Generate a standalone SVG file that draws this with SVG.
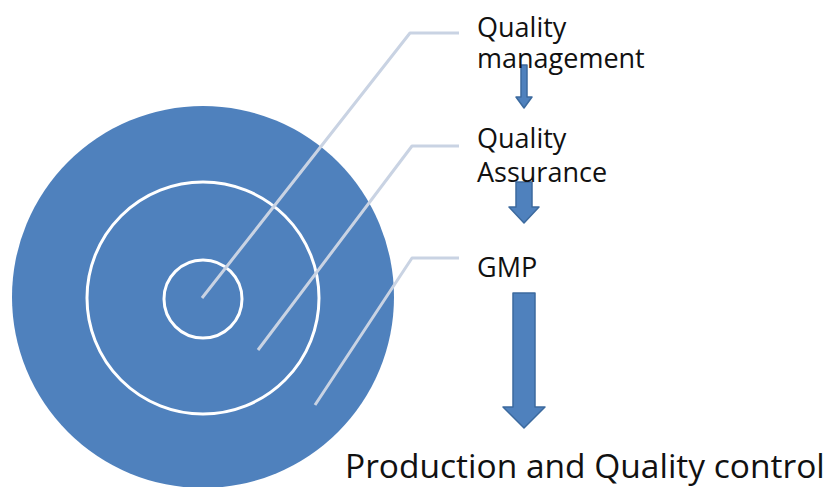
<svg xmlns="http://www.w3.org/2000/svg" width="827" height="487" viewBox="0 0 827 487">
<style>
.ring{fill:none;stroke:#ffffff;stroke-width:3}
.lead{fill:none;stroke:#c9d3e3;stroke-width:3;stroke-linejoin:round}
.arr{fill:#4f81bd;stroke:#3c6a9e;stroke-width:1.5;stroke-linejoin:round}
.lbl{font-family:"Open Sans","Noto Sans",sans-serif;font-size:27px;fill:#111}
</style>
<rect width="827" height="487" fill="#ffffff"/>
<g id="target">
<circle cx="203" cy="297" r="191" fill="#4f81bd"/>
<circle class="ring" cx="203" cy="298" r="116"/>
<circle class="ring" cx="203" cy="299" r="39"/>
</g>
<g id="connectors">
<polyline class="lead" points="202,298 410,33 459,33"/>
<polyline class="lead" points="258,350 412,146 459,146"/>
<polyline class="lead" points="315,405 412,258 459,258"/>
<path class="arr" d="M521,65 H527 V97 H532 L524,108 L516,97 H521 Z"/>
<path class="arr" d="M516,182 H532 V207 H539 L524,223 L509,207 H516 Z"/>
<path class="arr" d="M513,293 H535 V407 H545 L524,428 L503,407 H513 Z"/>
</g>
<g id="n-qm">
<text class="lbl" x="477" y="37">Quality</text>
<text class="lbl" x="477" y="68">management</text>
</g>
<g id="n-qa">
<text class="lbl" x="477" y="148">Quality</text>
<text class="lbl" x="477" y="182">Assurance</text>
</g>
<g id="n-gmp">
<text class="lbl" x="477" y="277">GMP</text>
</g>
<g id="n-pqc">
<text x="345" y="478" font-family="Open Sans,Noto Sans,sans-serif" font-size="33.5" fill="#111">Production and Quality control</text>
</g>
</svg>
